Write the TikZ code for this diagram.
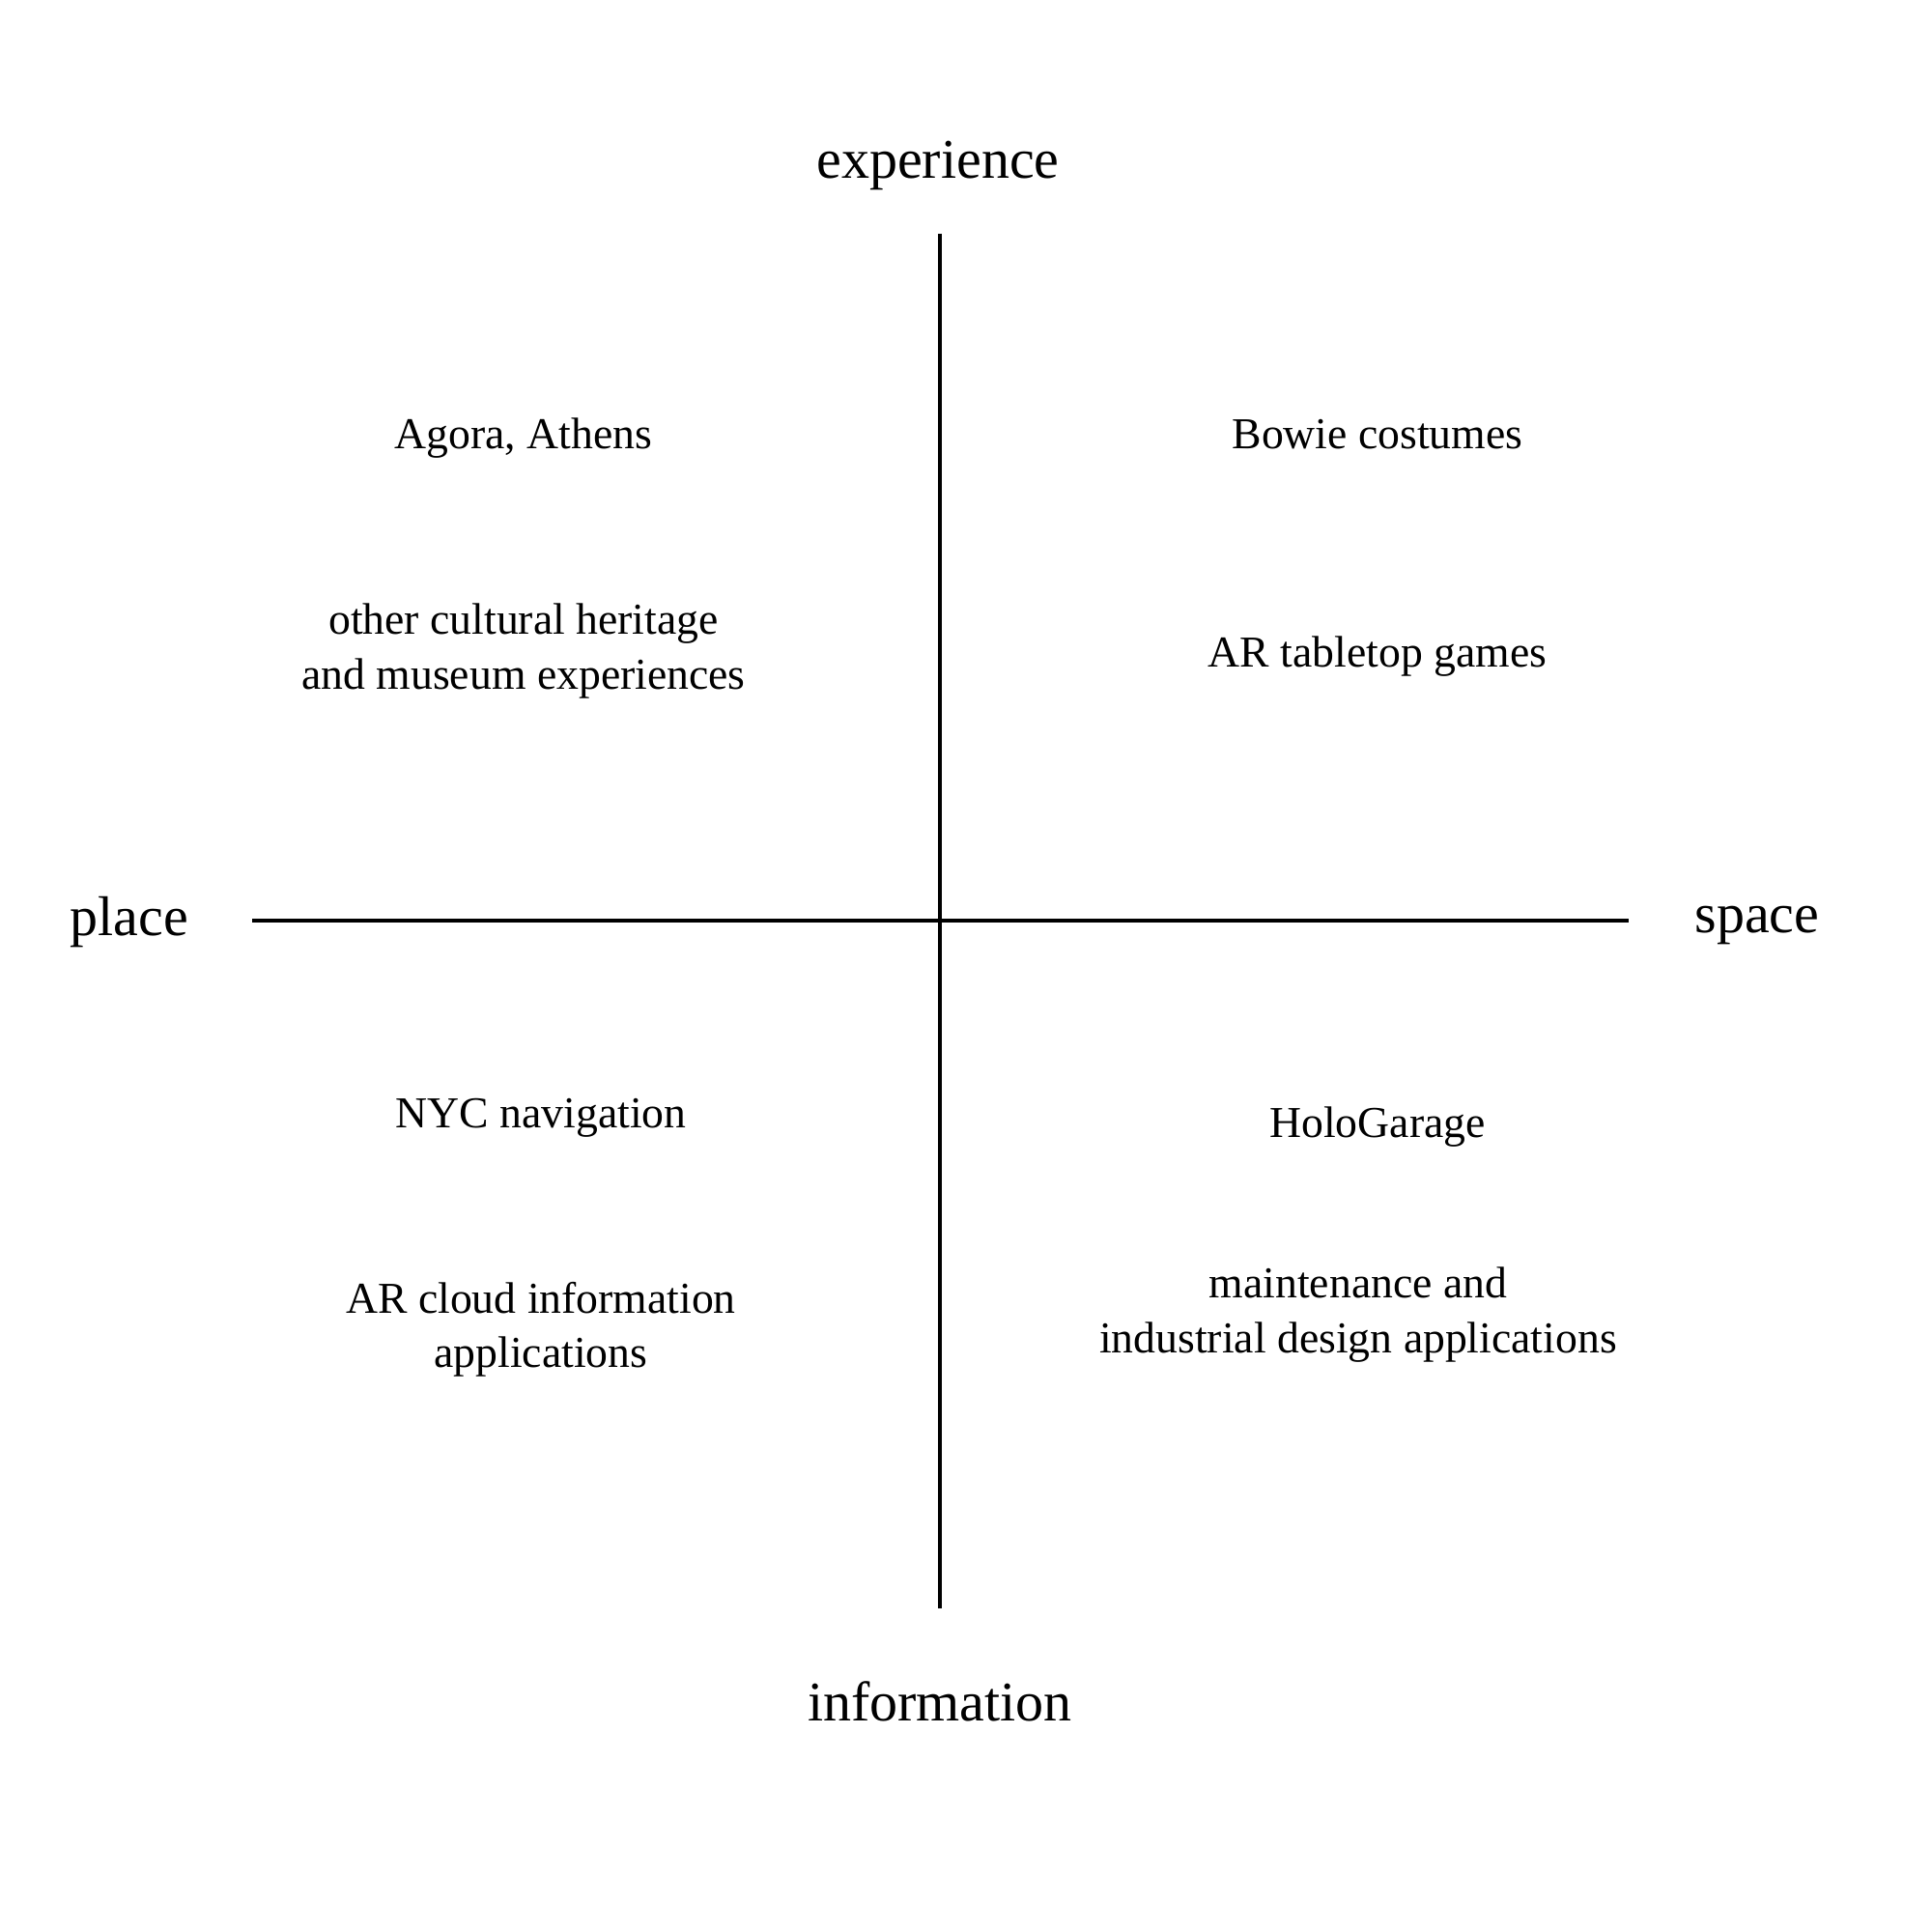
\documentclass[tikz,border=0pt]{standalone}
\usepackage{fontspec}
\setmainfont{Liberation Serif}
\begin{document}
\begin{tikzpicture}[every node/.style={align=center, inner sep=0pt, font=\fontsize{13}{16}\selectfont}, axislabel/.style={font=\fontsize{16.5}{20}\selectfont}]
				\useasboundingbox (0,0) rectangle (20,20);
				\coordinate (top) at (9.73,17.58);
				\coordinate (bottom) at (9.73,3.35);
				\coordinate (left) at (2.61,10.47);
				\coordinate (right) at (16.86,10.47);
				\draw[line width=1.1pt] (top) -- (bottom);
				\draw[line width=1.1pt] (left) -- (right);
				\node[axislabel] (experience) at (9.71,18.29) {experience};
				\node[axislabel] (information) at (9.73,2.39) {information};
				\node[axislabel] (place) at (1.34,10.45) {place};
				\node[axislabel] (space) at (18.19,10.42) {space};
				\node (agora) at (5.42,15.46) {Agora, Athens};
				\node (heritage) at (5.42,13.26) {other cultural heritage\\and museum experiences};
				\node (bowie) at (14.26,15.50) {Bowie costumes};
				\node (tabletop) at (14.26,13.20) {AR tabletop games};
				\node (nyc) at (5.60,8.43) {NYC navigation};
				\node (cloud) at (5.60,6.24) {AR cloud information\\applications};
				\node (holo) at (14.26,8.33) {HoloGarage};
				\node (maintenance) at (14.06,6.39) {maintenance and\\industrial design applications};
			\end{tikzpicture}
\end{document}
